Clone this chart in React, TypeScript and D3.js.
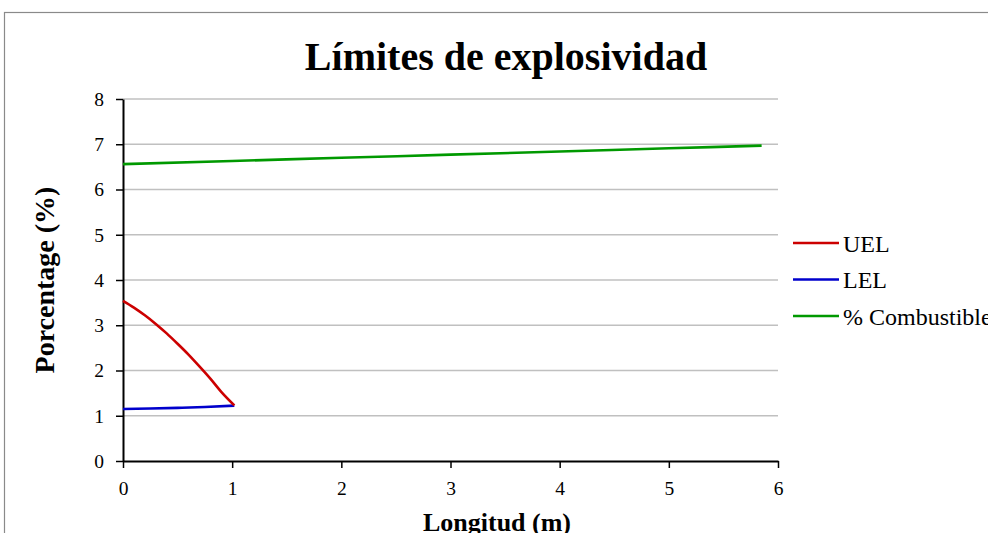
import React, { useEffect, useRef } from "react";
import * as d3 from "d3";

const uelX = [0, 0.1, 0.2, 0.3, 0.4, 0.5, 0.6, 0.7, 0.8, 0.9, 1.02];
const uelY = [3.54, 3.39, 3.22, 3.03, 2.82, 2.59, 2.35, 2.09, 1.82, 1.53, 1.23];
const lelX = [0, 0.25, 0.5, 0.75, 1.02];
const lelY = [1.15, 1.16, 1.175, 1.195, 1.225];
const combX = [0, 1, 2, 3, 4, 5, 5.85];
const combY = [6.56, 6.63, 6.7, 6.77, 6.84, 6.91, 6.97];
const xTicks = [0, 1, 2, 3, 4, 5, 6];
const yTicks = [0, 1, 2, 3, 4, 5, 6, 7, 8];
const seriesNames = ["UEL", "LEL", "% Combustible"];
const seriesColors = ["#cc0000", "#0000cc", "#009900"];

export default function App() {
  const ref = useRef<SVGSVGElement>(null);

  useEffect(() => {
    document.body.style.margin = "0";
    const svg = d3.select(ref.current);
    svg.selectAll("*").remove();
    const W = 988, H = 533;
    const x = d3.scaleLinear().domain([0, 6]).range([123, 778]);
    const y = d3.scaleLinear().domain([0, 8]).range([461, 99]);
    const font = "Liberation Serif, Times New Roman, Times, serif";

    svg.append("rect").attr("x", 0).attr("y", 0).attr("width", W).attr("height", H).attr("fill", "#fff");
    svg.append("rect").attr("x", 4.5).attr("y", 12.5).attr("width", 1100).attr("height", 700)
      .attr("fill", "none").attr("stroke", "#8a8a8a").attr("stroke-width", 1.2);

    // gridlines
    svg.append("g").selectAll("line").data(yTicks.filter(v => v > 0)).join("line")
      .attr("x1", x(0)).attr("x2", x(6)).attr("y1", d => y(d)).attr("y2", d => y(d))
      .attr("stroke", "#c0c0c0").attr("stroke-width", 1.5);

    // y axis
    const yAxis = svg.append("g").attr("transform", `translate(${x(0)},0)`)
      .call(d3.axisLeft(y).tickValues(yTicks).tickSize(7).tickSizeOuter(0).tickFormat(d3.format("d")));
    yAxis.attr("font-family", null).style("font-family", font);
    yAxis.select(".domain").attr("stroke", "#000").attr("stroke-width", 2);
    yAxis.selectAll(".tick line").attr("stroke", "#000").attr("stroke-width", 1.5);
    yAxis.selectAll(".tick text").style("font-family", font).style("font-size", "19.5px").attr("fill", "#000")
      .attr("x", -19).attr("dy", "0.33em");

    // x axis
    const xAxis = svg.append("g").attr("transform", `translate(0,${y(0)})`)
      .call(d3.axisBottom(x).tickValues(xTicks).tickSize(7).tickSizeOuter(0).tickFormat(d3.format("d")));
    xAxis.attr("font-family", null).style("font-family", font);
    xAxis.select(".domain").attr("stroke", "#000").attr("stroke-width", 2);
    xAxis.selectAll(".tick line").attr("stroke", "#000").attr("stroke-width", 1.5);
    xAxis.selectAll(".tick text").style("font-family", font).style("font-size", "19.5px").attr("fill", "#000")
      .attr("y", 34).attr("dy", 0);

    const line = d3.line<[number, number]>().x(d => x(d[0])).y(d => y(d[1])).curve(d3.curveMonotoneX);
    const series: [number, number][][] = [
      uelX.map((v, i) => [v, uelY[i]]),
      lelX.map((v, i) => [v, lelY[i]]),
      combX.map((v, i) => [v, combY[i]]),
    ];
    [1, 0, 2].forEach(i => {
      svg.append("path").attr("d", line(series[i]) as string).attr("fill", "none")
        .attr("stroke", seriesColors[i]).attr("stroke-width", 2.6).attr("stroke-linejoin", "round");
    });

    // legend
    const legY = [243, 279.5, 316];
    seriesNames.forEach((name, i) => {
      svg.append("line").attr("x1", 793).attr("x2", 839).attr("y1", legY[i]).attr("y2", legY[i])
        .attr("stroke", seriesColors[i]).attr("stroke-width", 2.6);
      svg.append("text").attr("x", 843).attr("y", legY[i] + 8.5).style("font-family", font)
        .style("font-size", "24px").attr("fill", "#000").text(name);
    });

    // titles
    svg.append("text").attr("x", 506).attr("y", 70).attr("text-anchor", "middle").style("font-family", font)
      .style("font-weight", "bold").style("font-size", "40px").attr("fill", "#000").text("Límites de explosividad");
    svg.append("text").attr("x", 497).attr("y", 531).attr("text-anchor", "middle").style("font-family", font)
      .style("font-weight", "bold").style("font-size", "26px").attr("fill", "#000").text("Longitud (m)");
    svg.append("text").attr("transform", "translate(54,280) rotate(-90)").attr("text-anchor", "middle")
      .style("font-family", font).style("font-weight", "bold").style("font-size", "28px").attr("fill", "#000")
      .text("Porcentage (%)");
  }, []);

  return <svg ref={ref} width={988} height={533} style={{ display: "block" }} />;
}
